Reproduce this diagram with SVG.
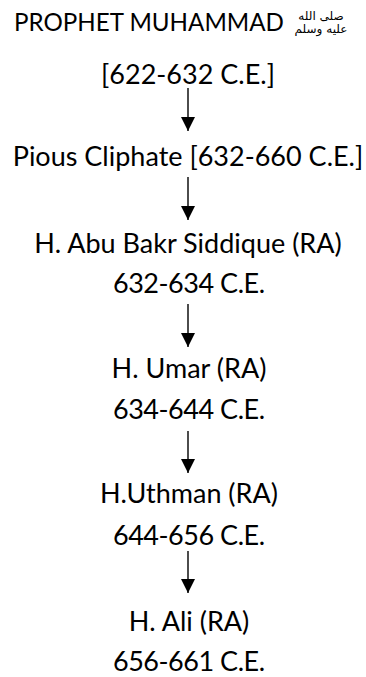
<svg xmlns="http://www.w3.org/2000/svg" width="366" height="677" viewBox="0 0 366 677">
  <style>
    .t { font-family: Lato, "Open Sans", "Liberation Sans", sans-serif; font-size: 27px; fill: #000; text-anchor: middle; }
    .ar { font-family: "DejaVu Sans", "Noto Sans", sans-serif; font-size: 12px; fill: #000; text-anchor: middle; }
    .c { stroke: #000; stroke-width: 1.4; fill: none; }
  </style>
  <defs>
    <marker id="ah" viewBox="0 0 10 10" refX="10" refY="5" markerWidth="14" markerHeight="14" markerUnits="userSpaceOnUse" orient="auto">
      <path d="M0,0 L10,5 L0,10 Z" fill="#000"/>
    </marker>
  </defs>
  <rect width="366" height="677" fill="#fff"/>
  <g id="prophet">
    <text class="t" x="149" y="31" style="font-size:25px" textLength="270" lengthAdjust="spacingAndGlyphs">PROPHET MUHAMMAD</text>
    <text class="ar" x="321" y="20" direction="rtl">صلى الله</text>
    <text class="ar" x="321" y="33" direction="rtl">عليه وسلم</text>
    <text class="t" x="188" y="84">[622-632 C.E.]</text>
  </g>
  <g id="pious">
    <text class="t" x="188" y="166">Pious Cliphate [632-660 C.E.]</text>
  </g>
  <g id="abubakr">
    <text class="t" x="188" y="253">H. Abu Bakr Siddique (RA)</text>
    <text class="t" x="189" y="293" textLength="152">632-634 C.E.</text>
  </g>
  <g id="umar">
    <text class="t" x="189" y="378">H. Umar (RA)</text>
    <text class="t" x="189" y="419" textLength="152">634-644 C.E.</text>
  </g>
  <g id="uthman">
    <text class="t" x="189" y="503">H.Uthman (RA)</text>
    <text class="t" x="189" y="545" textLength="152">644-656 C.E.</text>
  </g>
  <g id="ali">
    <text class="t" x="189" y="631">H. Ali (RA)</text>
    <text class="t" x="189" y="671" textLength="152">656-661 C.E.</text>
  </g>
  <g id="connectors">
    <line class="c" x1="188" y1="88" x2="188" y2="131" marker-end="url(#ah)"/>
    <line class="c" x1="188" y1="177" x2="188" y2="220" marker-end="url(#ah)"/>
    <line class="c" x1="188" y1="304" x2="188" y2="347" marker-end="url(#ah)"/>
    <line class="c" x1="188" y1="431" x2="188" y2="473" marker-end="url(#ah)"/>
    <line class="c" x1="188" y1="551" x2="188" y2="593" marker-end="url(#ah)"/>
  </g>
</svg>
